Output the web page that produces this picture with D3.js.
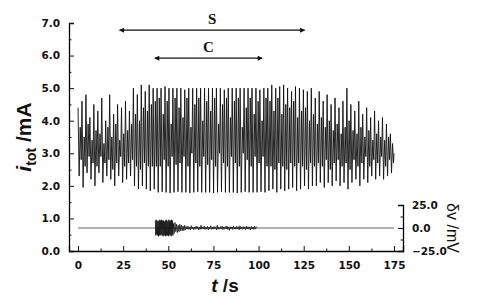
<!DOCTYPE html>
<html><head><meta charset="utf-8">
<script src="https://cdn.jsdelivr.net/npm/d3@7"></script>
<style>body{margin:0;background:#fff}</style>
</head><body>
<script>
// ---- data ----
const xTicks = [0, 25, 50, 75, 100, 125, 150, 175];
const yTicks = [0, 1, 2, 3, 4, 5, 6, 7];
const yRTicks = [-25, 0, 25];
const cyclePeriod = 2.19; // s, one mixed-mode cycle
// per-cycle extrema of i_tot (mA)
const bigPeak = [4.4,4.6,4.8,4.1,4.5,4.3,4.7,4.0,4.8,4.2,4.5,4.4,4.6,4.3,
  5.0,4.8,5.1,4.9,5.1,5.0,
  5.0,5.0,5.05,5.0,5.0,5.0,5.0,4.95,5.0,5.0,5.0,5.0,5.0,5.0,5.0,5.0,5.0,4.95,5.0,5.0,5.0,5.0,5.0,5.0,5.0,5.0,4.95,5.0,
  5.0,5.1,5.0,5.05,5.1,5.0,4.9,5.05,5.0,4.95,4.9,5.0,
  4.7,4.9,4.6,4.8,4.5,4.7,4.4,4.6,5.0,
  4.5,4.3,4.6,4.2,4.4,4.1,4.3,4.0,4.1,3.9,3.6];
const bigTrough = [2.3,1.95,2.4,2.2,2.0,2.4,2.1,2.3,2.2,2.0,2.3,2.1,2.2,2.3,
  2.0,1.9,2.0,1.9,1.85,1.9,
  1.8,1.82,1.8,1.78,1.8,1.82,1.8,1.8,1.78,1.8,1.82,1.8,1.8,1.8,1.78,1.8,1.82,1.8,1.8,1.8,1.78,1.8,1.82,1.8,1.8,1.8,1.82,1.8,
  1.85,1.9,1.8,1.9,1.85,1.9,1.95,1.85,1.9,2.0,1.9,2.0,
  2.0,2.1,1.95,2.1,2.0,2.15,2.0,2.1,1.9,
  2.1,2.2,2.0,2.2,2.1,2.3,2.2,2.3,2.2,2.3,2.4];
const midPeak = [3.8,3.5,3.9,3.4,3.7,3.6,3.3,3.8,3.5,3.9,3.4,3.6,3.7,3.9,
  4.2,4.0,4.4,4.3,4.5,4.6,
  4.7,4.2,4.6,3.9,4.7,4.4,4.1,4.7,3.8,4.5,4.7,4.0,4.6,4.3,4.7,3.9,4.5,4.7,4.1,4.6,4.7,3.8,4.4,4.7,4.2,4.6,4.0,4.7,
  4.6,4.3,4.7,4.2,4.5,4.4,4.6,4.1,4.3,4.4,4.0,4.2,
  3.9,4.1,3.8,4.0,3.7,3.9,3.6,3.8,4.0,
  3.7,3.6,3.8,3.5,3.7,3.4,3.6,3.5,3.4,3.5,3.3];
const midTrough = [2.8,2.6,2.9,2.7,2.6,2.9,2.7,2.8,2.5,2.7,2.9,2.6,2.7,2.8,
  2.6,2.5,2.7,2.6,2.6,2.6,
  2.6,2.8,2.6,2.9,2.65,2.7,2.9,2.6,3.0,2.7,2.6,2.9,2.65,2.8,2.6,3.0,2.7,2.6,2.9,2.7,2.6,3.0,2.8,2.6,2.9,2.7,2.9,2.6,
  2.6,2.5,2.7,2.6,2.5,2.7,2.6,2.7,2.6,2.5,2.7,2.6,
  2.7,2.6,2.8,2.5,2.7,2.8,2.6,2.7,2.5,
  2.8,2.6,2.7,2.9,2.6,2.8,2.7,2.9,2.6,2.8,2.7];
// δv (mV): dense burst, then decaying tail
const burstStart = 42.8, burstStep = 0.25;
const dvBurst = [8,-8,9,-7,8,-8,7,-9,8,-8,9,-8,8,-7,9,-8,8,-9,8,-8,7,-8,8,-9,9,-8,8,-8,7,-9,9,-8,8,-7,8,-9,9,-8,8,-8];
const tailStart = 52.8, tailStep = 0.45;
const dvTail = [5,-6,6,-4,4,-5,3,-4,4,-3,3,-3,2,-3,3,-2,
  1.5,-1.2,2,-1.5,1,-2,2.5,-1,1.2,-1.8,1,-1.3,2,-1,1.5,-2.2,1,-1.5,3,-1.2,1.2,-1,2,-1.6,1,-1.2,1.8,-2,1,-1.1,2.5,-1.5,1,-1.3,1.6,-1,1.2,-2,3,-1.4,1,-1.2,1.5,-1,2,-1.8,1.1,-1.3,1.6,-1,2.2,-1.5,1,-2.5,1.4,-1,1.2,-1.6,2,-1.2,1,-1.4,1.8,-1,1.3,-2,2.4,-1.2,1,-1.5,1.6,-1.1,1.2,-1.8,2,-1,1.4,-1.3,1,-2.2,1.7,-1,1.2,-1.5,2,-1.2,1.1,0.5];
const dvBaseline = [[0,0],[175,0]];
// arrows (t range, level in mA)
const arrowS = {label:"S", from:23, to:125.5, y:6.78};
const arrowC = {label:"C", from:42.5, to:102, y:5.92};

// ---- build tables ----
const itot = [];
bigPeak.forEach((p,i)=>{
  const t0 = i*cyclePeriod;
  itot.push([t0, p]);
  itot.push([t0+0.28*cyclePeriod, bigTrough[i]]);
  itot.push([t0+0.55*cyclePeriod, midPeak[i]]);
  itot.push([t0+0.8*cyclePeriod, midTrough[i]]);
});
itot.push([175, 3.0]);
const dvData = dvBurst.map((v,i)=>[burstStart+i*burstStep, v])
  .concat(dvTail.map((v,i)=>[tailStart+i*tailStep, v]));

// ---- chart ----
const W=481,H=300;
const svg = d3.select("body").append("svg").attr("width",W).attr("height",H)
  .style("font-family","'DejaVu Sans',sans-serif");
const x = d3.scaleLinear().domain([-5,180]).range([69,403]);
const y = d3.scaleLinear().domain([0,7]).range([251,23]);
const yR = d3.scaleLinear().domain([-25,25]).range([251,205]);

const tickFont = g => g.selectAll("text").attr("font-size","10.5px").attr("font-weight","bold")
  .attr("font-family","'DejaVu Sans',sans-serif").attr("fill","#111");

// bottom axis
const xMinor = d3.range(0,181,12.5).filter(v=>!xTicks.includes(v));
svg.append("g").attr("transform","translate(0,251)")
  .call(d3.axisBottom(x).tickValues(xMinor).tickSize(-2.5).tickFormat(""))
  .call(g=>g.select(".domain").remove());
svg.append("g").attr("transform","translate(0,251)")
  .call(d3.axisBottom(x).tickValues(xTicks).tickSize(-5).tickPadding(11).tickFormat(d3.format("d")))
  .call(tickFont).call(g=>g.select(".domain").attr("stroke-width",1.3));
// left axis
const yMinor = d3.range(0.5,7,1);
svg.append("g").attr("transform","translate(69,0)")
  .call(d3.axisLeft(y).tickValues(yMinor).tickSize(-2.5).tickFormat(""))
  .call(g=>g.select(".domain").remove());
svg.append("g").attr("transform","translate(69,0)")
  .call(d3.axisLeft(y).tickValues(yTicks).tickSize(-5).tickPadding(9).tickFormat(d3.format(".1f")))
  .call(tickFont).call(g=>g.select(".domain").attr("stroke-width",1.3));
// right axis
svg.append("g").attr("transform","translate(403,0)")
  .call(d3.axisRight(yR).tickValues([-12.5,12.5]).tickSize(-2.5).tickFormat(""))
  .call(g=>g.select(".domain").remove());
svg.append("g").attr("transform","translate(403,0)")
  .call(d3.axisRight(yR).tickValues(yRTicks).tickSize(-5).tickPadding(9).tickFormat(d3.format(".1f")))
  .call(tickFont).call(g=>g.select(".domain").attr("stroke-width",1.3));
svg.selectAll(".tick line").attr("stroke","#111");

// itot trace
const line = d3.line().x(d=>x(d[0])).y(d=>y(d[1]));
svg.append("path").datum(itot).attr("d",line).attr("fill","none")
  .attr("stroke","#111").attr("stroke-width",0.9);
// dv baseline and trace
const lineR = d3.line().x(d=>x(d[0])).y(d=>yR(d[1]));
svg.append("path").datum(dvBaseline).attr("d",lineR).attr("fill","none")
  .attr("stroke","#999").attr("stroke-width",1.3);
svg.append("path").datum(dvData).attr("d",lineR).attr("fill","none")
  .attr("stroke","#111").attr("stroke-width",0.8);

// arrows
const defs = svg.append("defs");
["e","s"].forEach(k=>{
  defs.append("marker").attr("id","ah"+k).attr("viewBox","0 0 10 10").attr("refX",9).attr("refY",5)
    .attr("markerWidth",7).attr("markerHeight",5).attr("markerUnits","userSpaceOnUse")
    .attr("orient", k==="e"?"auto":"auto-start-reverse")
    .append("path").attr("d","M0,0L10,5L0,10z").attr("fill","#111");
});
[arrowS, arrowC].forEach(a=>{
  svg.append("line").attr("x1",x(a.from)).attr("x2",x(a.to)).attr("y1",y(a.y)).attr("y2",y(a.y))
    .attr("stroke","#111").attr("stroke-width",1.2)
    .attr("marker-end","url(#ahe)").attr("marker-start","url(#ahs)");
  svg.append("text").attr("x",x((a.from+a.to)/2)).attr("y",y(a.y)-6).attr("text-anchor","middle")
    .attr("font-family","'Liberation Serif',serif").attr("font-weight","bold").attr("font-size","15px")
    .attr("fill","#111").text(a.label);
});

// axis titles
const yl = svg.append("text").attr("transform","translate(31,137) rotate(-90)").attr("text-anchor","middle")
  .attr("font-family","'Liberation Sans',Arial,sans-serif").attr("font-weight","bold").attr("font-size","21px").attr("fill","#111");
yl.append("tspan").attr("font-style","italic").text("i");
yl.append("tspan").attr("font-size","14px").attr("dy","5").text("tot");
yl.append("tspan").attr("dy","-5").text(" /mA");
const xl = svg.append("text").attr("x",225).attr("y",292).attr("text-anchor","middle")
  .attr("font-family","'Liberation Sans',Arial,sans-serif").attr("font-weight","bold").attr("font-size","19px").attr("fill","#111");
xl.append("tspan").attr("font-style","italic").text("t");
xl.append("tspan").text(" /s");
svg.append("text").attr("transform","translate(447,228) rotate(90)").attr("text-anchor","middle")
  .attr("font-family","'Liberation Sans',Arial,sans-serif").attr("font-size","16px").attr("fill","#111")
  .text("δv /mV");
</script>
</body></html>
